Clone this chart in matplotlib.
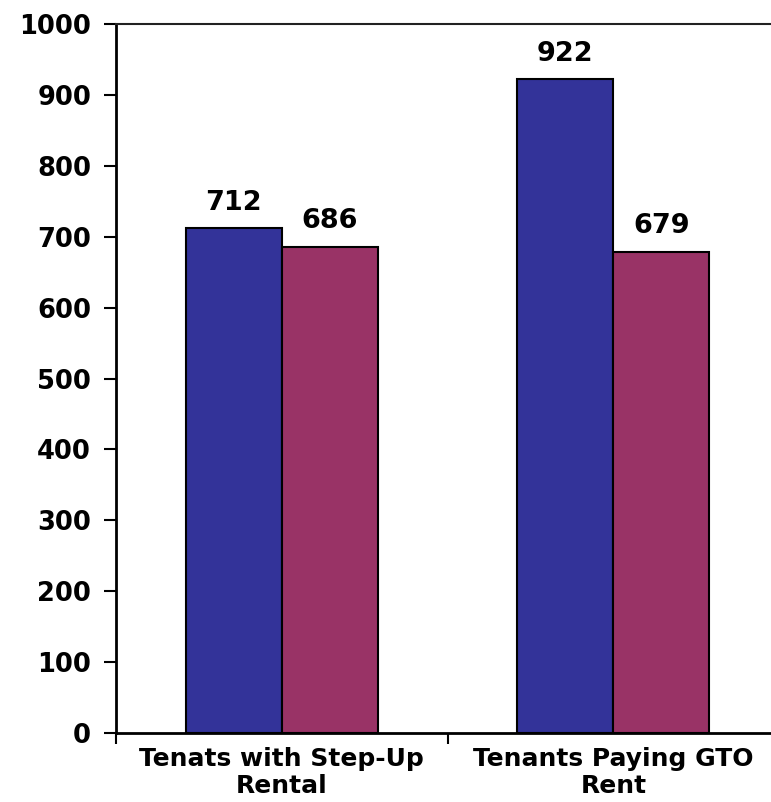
import matplotlib.pyplot as plt
import numpy as np

categories = ["Tenats with Step-Up\nRental", "Tenants Paying GTO\nRent"]
series_a = [712, 922]
series_b = [686, 679]
yticks = list(range(0, 1001, 100))

plt.rcParams['font.family'] = ['DejaVu Sans']
plt.rcParams['font.weight'] = 'bold'

fig = plt.figure(figsize=(7.71, 8.02), dpi=100)
ax = fig.add_axes([0.1505, 0.086, 0.860, 0.884])

x = np.arange(len(categories))
w = 0.29
bars_a = ax.bar(x - w/2, series_a, w, color="#333399", edgecolor="black", linewidth=1.5)
bars_b = ax.bar(x + w/2, series_b, w, color="#993366", edgecolor="black", linewidth=1.5)

for bars in (bars_a, bars_b):
  for b in bars:
    ax.annotate(str(int(b.get_height())), (b.get_x() + b.get_width()/2, b.get_height()),
                xytext=(0, 9), textcoords="offset points", ha="center", va="bottom",
                fontsize=19.5, fontweight="bold")

ax.set_xlim(-0.5, 1.5)
ax.set_ylim(0, 1000)
ax.set_yticks(yticks)
ax.set_yticklabels([str(t) for t in yticks], fontsize=18.5, fontweight="bold")
ax.tick_params(axis="y", length=9, width=1.5, pad=9)

# category labels sit between the boundary ticks
ax.set_xticks([-0.5, 0.5, 1.5])
ax.set_xticklabels([])
ax.set_xticks(x, minor=True)
ax.set_xticklabels(categories, minor=True, fontsize=18, fontweight="bold", linespacing=1.15)
ax.tick_params(axis="x", which="major", length=8, width=1.5)
ax.tick_params(axis="x", which="minor", length=0, pad=10)

ax.spines["left"].set_linewidth(2)
ax.spines["bottom"].set_linewidth(2)
ax.spines["top"].set_linewidth(1.5)
ax.spines["top"].set_color("#222222")
ax.spines["right"].set_visible(False)

fig.savefig("out.png", dpi=100)
